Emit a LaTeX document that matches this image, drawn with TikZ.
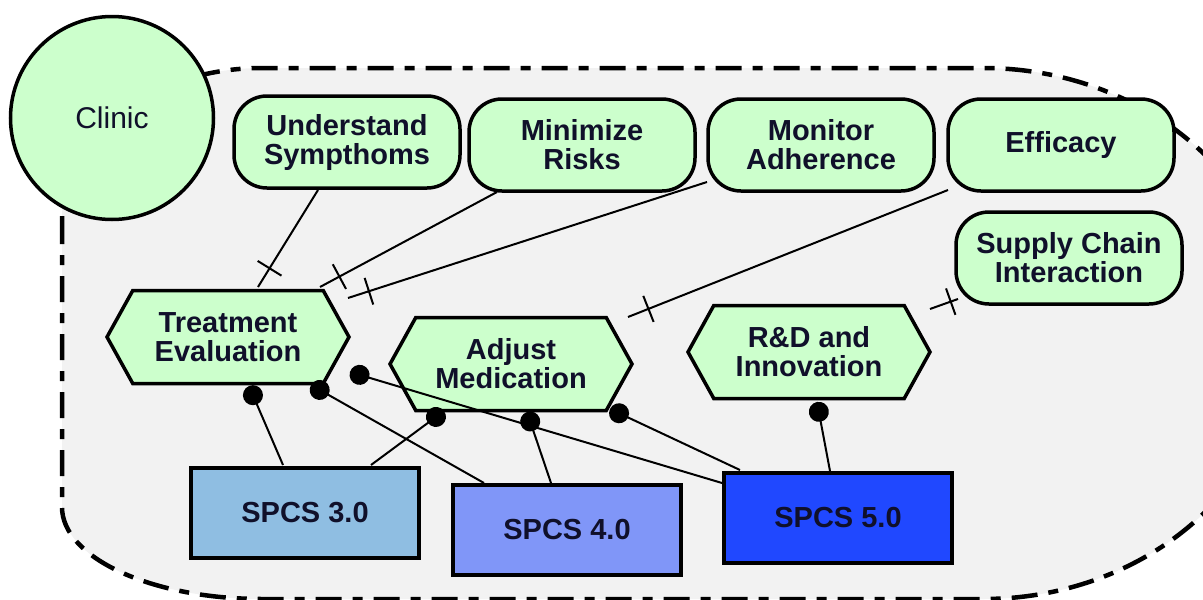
\documentclass[tikz,border=0pt]{standalone}
\usepackage{fontspec}
\setmainfont{Liberation Sans}
\usetikzlibrary{shapes.symbols,calc,decorations.markings,arrows.meta}
\definecolor{nodegreen}{HTML}{CCFFCC}
\definecolor{regiongray}{HTML}{F2F2F2}
\definecolor{spcsa}{HTML}{8FBEE2}
\definecolor{spcsb}{HTML}{8096F8}
\definecolor{spcsc}{HTML}{2048FF}
\definecolor{txtcol}{HTML}{10102A}
\begin{document}
\begin{tikzpicture}[x=1pt,y=-1pt,
  lbl/.style={font=\bfseries\fontsize{29}{29}\selectfont, text=txtcol, align=center, inner sep=0pt},
  goal/.style={lbl, draw=black, line width=3.5pt, fill=nodegreen, rounded corners=33pt, minimum width=226pt, minimum height=92pt},
  hexa/.style={lbl, signal, signal to=east and west, signal pointer angle=122, draw=black, line width=3.5pt, fill=nodegreen, minimum width=242pt, minimum height=93pt},
  spcs/.style={lbl, draw=black, line width=3.5pt, minimum width=228pt, minimum height=90pt},
  onelink/.style={draw=black, line width=2pt, postaction={decorate, decoration={markings, mark=at position 22pt with {\draw[line width=2pt] (0pt,-14pt) -- (0pt,14pt);}}}},
  dotlink/.style={draw=black, line width=2pt, -{Circle[length=20pt,width=20pt]}},
  region/.style={draw=black, line width=4.5pt, dash pattern=on 26pt off 11pt on 10pt off 11pt, fill=regiongray}
]
\useasboundingbox (0,0) rectangle (1203,600);
\clip (0,0) rectangle (1203,600);
\path[region] (62,218) -- (62,507) .. controls (62,558) and (152,599) .. (262,599) -- (983,599) .. controls (1149,599) and (1283,480) .. (1283,333.5) .. controls (1283,187) and (1149,68) .. (983,68) -- (262,68) .. controls (152,68) and (62,135) .. (62,218) -- cycle;

\node[circle, draw=black, line width=3.5pt, fill=nodegreen, minimum size=203pt, inner sep=0pt, font=\fontsize{30}{30}\selectfont, text=txtcol] (clinic) at (112,118) {Clinic};

\node[goal] (und) at (347,142) {Understand\\Sympthoms};
\node[goal] (min) at (582,145) {Minimize\\Risks};
\node[goal] (mon) at (821,145) {Monitor\\Adherence};
\node[goal] (eff) at (1061,145) {Efficacy};
\node[goal] (sup) at (1069,258) {Supply Chain\\Interaction};

\node[hexa] (treat) at (228,337) {Treatment\\Evaluation};
\node[hexa] (adj) at (511,364) {Adjust\\Medication};
\node[hexa] (rnd) at (809,352) {R\&D and\\Innovation};

\node[spcs, fill=spcsa] (s3) at (305,513) {SPCS 3.0};
\node[spcs, fill=spcsb] (s4) at (567,530) {SPCS 4.0};
\node[spcs, fill=spcsc] (s5) at (838,518) {SPCS 5.0};

\draw[onelink] ($(treat.center)+(30,-50)$) -- ($(und.center)+(-29,48)$);
\draw[onelink] ($(treat.center)+(92,-50)$) -- ($(min.center)+(-85,47)$);
\draw[onelink] ($(treat.center)+(120,-39)$) -- ($(mon.center)+(-114,37)$);
\draw[onelink] ($(adj.center)+(117,-47)$) -- ($(eff.center)+(-113,45)$);
\draw[onelink] ($(rnd.center)+(121,-43)$) -- ($(sup.center)+(-111,41)$);

\draw[dotlink] ($(s3.center)+(-22,-48)$) -- ($(treat.center)+(21,49)$);
\draw[dotlink] ($(s3.center)+(66,-48)$) -- ($(adj.center)+(-67,47)$);
\draw[dotlink] ($(s4.center)+(-83,-47)$) -- ($(treat.center)+(83,48)$);
\draw[dotlink] ($(s4.center)+(-16,-47)$) -- ($(adj.center)+(16,48)$);
\draw[dotlink] ($(s5.center)+(-116,-35)$) -- ($(treat.center)+(122,35)$);
\draw[dotlink] ($(s5.center)+(-98,-48)$) -- ($(adj.center)+(99,45)$);
\draw[dotlink] ($(s5.center)+(-8,-47)$) -- ($(rnd.center)+(8,50)$);
\end{tikzpicture}
\end{document}
